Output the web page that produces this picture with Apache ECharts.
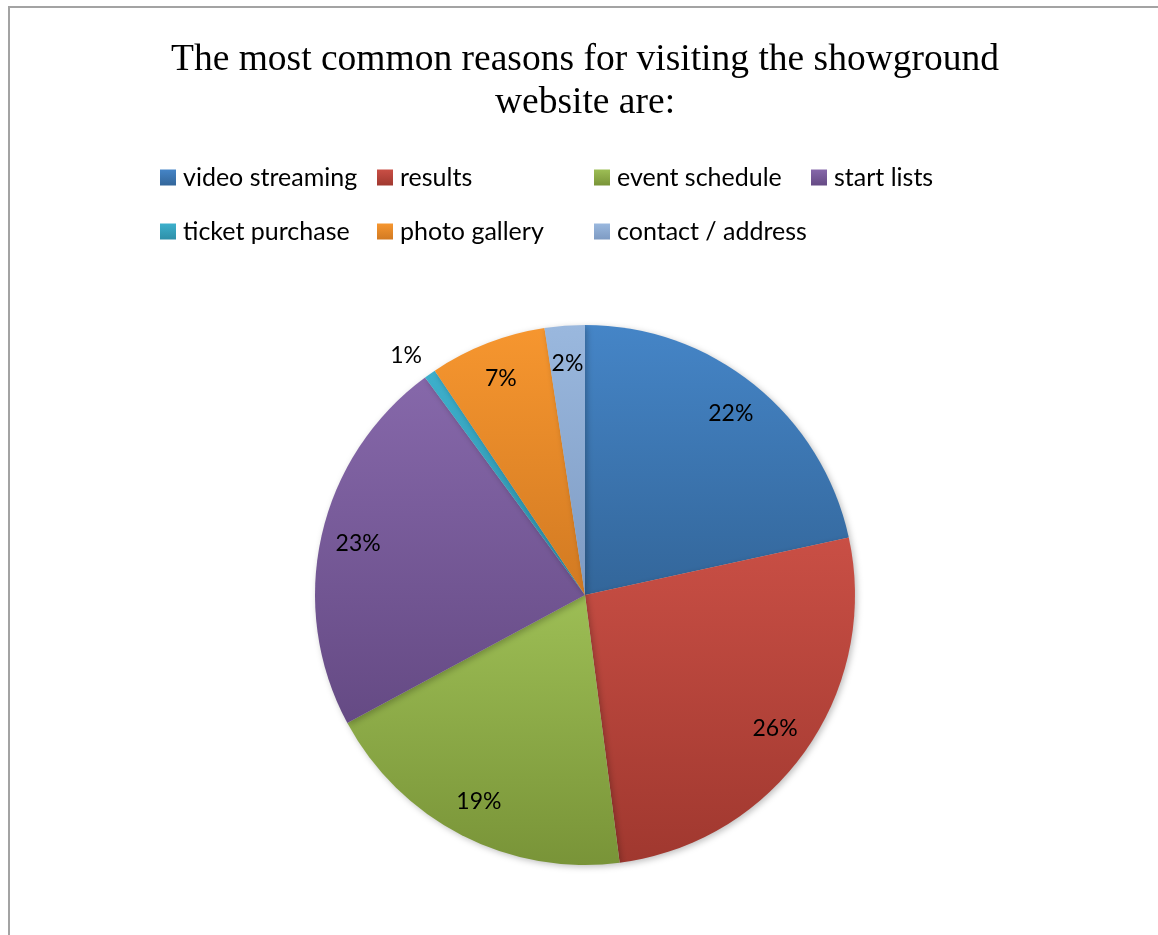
<!DOCTYPE html>
<html>
<head>
<meta charset="utf-8">
<script src="https://cdn.jsdelivr.net/npm/echarts@6/dist/echarts.min.js"></script>
<style>html,body{margin:0;padding:0;background:#fff}#c{width:1158px;height:935px}</style>
</head>
<body>
<div id="c"></div>
<script>
const titleText = 'The most common reasons for visiting the showground\nwebsite are:';
const categories = ['video streaming', 'results', 'event schedule', 'start lists', 'ticket purchase', 'photo gallery', 'contact / address'];
const shares = [21.6, 26.4, 19.2, 22.8, 0.7, 7.0, 2.4];
const topColors = ['#4585C7', '#C94F45', '#9DBE55', '#8668AA', '#3DB0CC', '#F6962F', '#9AB8DE'];
const bottomColors = ['#33669A', '#A0382F', '#799438', '#654A84', '#2E8FA8', '#D27A22', '#7E9BC3'];

const cx = 585, cy = 595, R = 270;
const total = shares.reduce((a, b) => a + b, 0);

function grad(i) {
  return {type: 'linear', x: 0, y: 0, x2: 0, y2: 1,
    colorStops: [{offset: 0, color: topColors[i]}, {offset: 1, color: bottomColors[i]}]};
}

const mainData = categories.map((n, i) => ({name: n, value: shares[i], itemStyle: {color: grad(i)}}));
const labelData = categories.map((n, i) => {
  const small = shares[i] / total < 0.01;
  return {
    name: n, value: shares[i],
    label: small ? {position: 'outside', offset: [4, -9]} : {position: 'inside'},
    labelLine: {show: false, length: 12, length2: 0}
  };
});

const legends = categories.map((n, i) => ({
  data: [n],
  left: 160 + (i % 4) * 217,
  top: 158 + Math.floor(i / 4) * 54,
  padding: 0,
  itemWidth: 16, itemHeight: 16, itemGap: 0,
  icon: 'rect',
  selectedMode: false,
  textStyle: {fontFamily: 'Lato', fontSize: 25, lineHeight: 26, color: '#000', padding: [13, 0, 0, 2]}
}));

const chart = echarts.init(document.getElementById('c'), null, {renderer: 'canvas'});
chart.setOption({
  backgroundColor: '#fff',
  animation: false,
  title: {
    text: titleText,
    left: cx - 5, top: 34, textAlign: 'center',
    textStyle: {fontFamily: 'Liberation Serif', fontSize: 37.5, fontWeight: 'normal', color: '#000', lineHeight: 43}
  },
  legend: legends,
  graphic: [{type: 'rect', shape: {x: 9, y: 7, width: 3000, height: 3000}, style: {fill: 'none', stroke: '#a3a3a3', lineWidth: 2}, silent: true}],
  series: [
    {
      type: 'pie', center: [cx, cy], radius: [0, R], startAngle: 90, clockwise: true,
      data: mainData, label: {show: false}, labelLine: {show: false},
      itemStyle: {borderWidth: 0, shadowBlur: 6, shadowColor: 'rgba(0,0,0,0.25)', shadowOffsetX: 2, shadowOffsetY: 2},
      emphasis: {disabled: true}, silent: true
    },
    {
      type: 'pie', center: [cx, cy], radius: [R * 0.7, R], startAngle: 90, clockwise: true,
      data: labelData,
      itemStyle: {color: 'rgba(0,0,0,0)', borderWidth: 0},
      label: {show: true, formatter: p => Math.round(p.percent) + '%', fontFamily: 'Lato', fontSize: 23, color: '#000'},
      labelLine: {show: false},
      emphasis: {disabled: true}, silent: true
    }
  ]
});
</script>
</body>
</html>
